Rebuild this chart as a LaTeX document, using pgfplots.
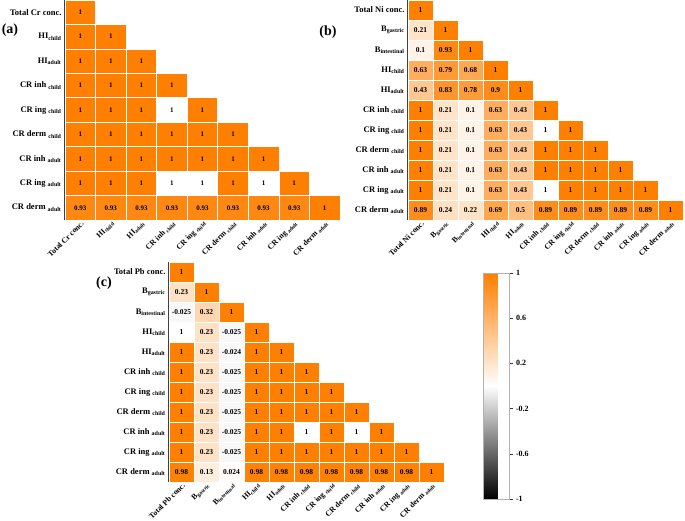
\documentclass[border=0pt]{standalone}
\usepackage{fontspec}
\setmainfont{Liberation Serif}
\usepackage{pgfplots}
\usepackage{pgfplotstable}
\pgfplotsset{compat=1.18}

% black - white - orange, as in the colour key
\pgfplotsset{colormap={corr}{rgb255=(0,0,0) rgb255=(255,255,255) rgb255=(255,127,0)}}

% one cell of each grid, in pt (axis is 275pt x 220pt)
\pgfdeclareplotmark{cellA}{\pgfpathrectangle{\pgfpoint{-15.278pt}{-12.222pt}}{\pgfpoint{30.556pt}{24.444pt}}\pgfusepathqfillstroke}
\pgfdeclareplotmark{cellB}{\pgfpathrectangle{\pgfpoint{-12.5pt}{-10pt}}{\pgfpoint{25pt}{20pt}}\pgfusepathqfillstroke}

\newcommand{\tl}{\fontsize{8.5}{9}\selectfont\bfseries}
\newcommand{\sub}[1]{\textsubscript{#1}}

\pgfplotsset{
  heat/.style={
    anchor=south west, scale only axis, width=275pt, height=220pt,
    axis x line*=bottom, axis y line*=left, axis on top,
    axis line style={line width=1.2pt, black!75},
    major tick length=0pt,
    tick label style={font=\tl},
    xticklabel style={font=\fontsize{7.8}{9}\selectfont\bfseries,
      xshift=3pt, yshift=-1.5pt, rotate=45, anchor=east, inner sep=1pt},
    colormap name=corr, point meta min=-1, point meta max=1,
  },
  hmcell/.style={scatter, only marks, mark=#1, point meta=explicit,
    scatter/use mapped color={draw=white, fill=mapped color},
    mark options={line width=0.6pt}},
  hmwhite/.style={only marks, mark=#1, point meta=none, draw=white, fill=white,
    mark options={draw=white, fill=white, line width=0.6pt}},
  hmnum/.style={only marks, mark=none, nodes near coords, point meta=explicit symbolic,
    every node near coord/.append style={anchor=center, font=#1, text=black}},
}

% Cr
\pgfplotstableread[row sep=\\]{
x y v\\
0 8 1\\
0 7 1\\ 1 7 1\\
0 6 1\\ 1 6 1\\ 2 6 1\\
0 5 1\\ 1 5 1\\ 2 5 1\\ 3 5 1\\
0 4 1\\ 1 4 1\\ 2 4 1\\ 3 4 1\\ 4 4 1\\
0 3 1\\ 1 3 1\\ 2 3 1\\ 3 3 1\\ 4 3 1\\ 5 3 1\\
0 2 1\\ 1 2 1\\ 2 2 1\\ 3 2 1\\ 4 2 1\\ 5 2 1\\ 6 2 1\\
0 1 1\\ 1 1 1\\ 2 1 1\\ 3 1 1\\ 4 1 1\\ 5 1 1\\ 6 1 1\\ 7 1 1\\
0 0 0.93\\ 1 0 0.93\\ 2 0 0.93\\ 3 0 0.93\\ 4 0 0.93\\ 5 0 0.93\\ 6 0 0.93\\ 7 0 0.93\\ 8 0 1\\
}\tabCr

% Ni
\pgfplotstableread[row sep=\\]{
x y v\\
0 10 1\\
0 9 0.21\\ 1 9 1\\
0 8 0.1\\ 1 8 0.93\\ 2 8 1\\
0 7 0.63\\ 1 7 0.79\\ 2 7 0.68\\ 3 7 1\\
0 6 0.43\\ 1 6 0.83\\ 2 6 0.78\\ 3 6 0.9\\ 4 6 1\\
0 5 1\\ 1 5 0.21\\ 2 5 0.1\\ 3 5 0.63\\ 4 5 0.43\\ 5 5 1\\
0 4 1\\ 1 4 0.21\\ 2 4 0.1\\ 3 4 0.63\\ 4 4 0.43\\ 5 4 1\\ 6 4 1\\
0 3 1\\ 1 3 0.21\\ 2 3 0.1\\ 3 3 0.63\\ 4 3 0.43\\ 5 3 1\\ 6 3 1\\ 7 3 1\\
0 2 1\\ 1 2 0.21\\ 2 2 0.1\\ 3 2 0.63\\ 4 2 0.43\\ 5 2 1\\ 6 2 1\\ 7 2 1\\ 8 2 1\\
0 1 1\\ 1 1 0.21\\ 2 1 0.1\\ 3 1 0.63\\ 4 1 0.43\\ 5 1 1\\ 6 1 1\\ 7 1 1\\ 8 1 1\\ 9 1 1\\
0 0 0.89\\ 1 0 0.24\\ 2 0 0.22\\ 3 0 0.69\\ 4 0 0.5\\ 5 0 0.89\\ 6 0 0.89\\ 7 0 0.89\\ 8 0 0.89\\ 9 0 0.89\\ 10 0 1\\
}\tabNi

% Pb
\pgfplotstableread[row sep=\\]{
x y v\\
0 10 1\\
0 9 0.23\\ 1 9 1\\
0 8 -0.025\\ 1 8 0.32\\ 2 8 1\\
0 7 1\\ 1 7 0.23\\ 2 7 -0.025\\ 3 7 1\\
0 6 1\\ 1 6 0.23\\ 2 6 -0.024\\ 3 6 1\\ 4 6 1\\
0 5 1\\ 1 5 0.23\\ 2 5 -0.025\\ 3 5 1\\ 4 5 1\\ 5 5 1\\
0 4 1\\ 1 4 0.23\\ 2 4 -0.025\\ 3 4 1\\ 4 4 1\\ 5 4 1\\ 6 4 1\\
0 3 1\\ 1 3 0.23\\ 2 3 -0.025\\ 3 3 1\\ 4 3 1\\ 5 3 1\\ 6 3 1\\ 7 3 1\\
0 2 1\\ 1 2 0.23\\ 2 2 -0.025\\ 3 2 1\\ 4 2 1\\ 5 2 1\\ 6 2 1\\ 7 2 1\\ 8 2 1\\
0 1 1\\ 1 1 0.23\\ 2 1 -0.025\\ 3 1 1\\ 4 1 1\\ 5 1 1\\ 6 1 1\\ 7 1 1\\ 8 1 1\\ 9 1 1\\
0 0 0.98\\ 1 0 0.13\\ 2 0 0.024\\ 3 0 0.98\\ 4 0 0.98\\ 5 0 0.98\\ 6 0 0.98\\ 7 0 0.98\\ 8 0 0.98\\ 9 0 0.98\\ 10 0 1\\
}\tabPb

\begin{document}
\begin{tikzpicture}
\useasboundingbox (0,0) rectangle (685pt,521pt);

% (a) Cr
\begin{axis}[heat, at={(65pt,301pt)},
  xmin=-0.5, xmax=8.5, ymin=-0.5, ymax=8.5,
  xtick={0,...,8}, ytick={0,...,8},
  xticklabels={Total Cr conc., HI\sub{child}, HI\sub{adult}, CR inh \sub{child}, CR ing \sub{child}, CR derm \sub{child}, CR inh \sub{adult}, CR ing \sub{adult}, CR derm \sub{adult}},
  yticklabels={CR derm \sub{adult}, CR ing \sub{adult}, CR inh \sub{adult}, CR derm \sub{child}, CR ing \sub{child}, CR inh \sub{child}, HI\sub{adult}, HI\sub{child}, Total Cr conc.}]
\addplot[hmcell=cellA] table[meta=v] {\tabCr};
\addplot[hmwhite=cellA] coordinates {(3,4) (3,1) (4,1) (6,1)};
\addplot[hmnum={\fontsize{7}{8}\selectfont\bfseries}] table[meta=v] {\tabCr};
\end{axis}

% (b) Ni
\begin{axis}[heat, at={(408pt,301pt)},
  xmin=-0.5, xmax=10.5, ymin=-0.5, ymax=10.5,
  xtick={0,...,10}, ytick={0,...,10},
  xticklabels={Total Ni conc., B\sub{gastric}, B\sub{intestinal}, HI\sub{child}, HI\sub{adult}, CR inh \sub{child}, CR ing \sub{child}, CR derm \sub{child}, CR inh \sub{adult}, CR ing \sub{adult}, CR derm \sub{adult}},
  yticklabels={CR derm \sub{adult}, CR ing \sub{adult}, CR inh \sub{adult}, CR derm \sub{child}, CR ing \sub{child}, CR inh \sub{child}, HI\sub{adult}, HI\sub{child}, B\sub{intestinal}, B\sub{gastric}, Total Ni conc.}]
\addplot[hmcell=cellB] table[meta=v] {\tabNi};
\addplot[hmwhite=cellB] coordinates {(5,4) (5,1)};
\addplot[hmnum={\fontsize{7.5}{8}\selectfont\bfseries}] table[meta=v] {\tabNi};
\end{axis}

% (c) Pb, with the colour key
\begin{axis}[heat, at={(169pt,39pt)},
  xmin=-0.5, xmax=10.5, ymin=-0.5, ymax=10.5,
  xtick={0,...,10}, ytick={0,...,10},
  xticklabels={Total Pb conc., B\sub{gastric}, B\sub{intestinal}, HI\sub{child}, HI\sub{adult}, CR inh \sub{child}, CR ing \sub{child}, CR derm \sub{child}, CR inh \sub{adult}, CR ing \sub{adult}, CR derm \sub{adult}},
  yticklabels={CR derm \sub{adult}, CR ing \sub{adult}, CR inh \sub{adult}, CR derm \sub{child}, CR ing \sub{child}, CR inh \sub{child}, HI\sub{adult}, HI\sub{child}, B\sub{intestinal}, B\sub{gastric}, Total Pb conc.},
  colorbar,
  colorbar style={at={(parent axis.south east)}, anchor=south west,
    xshift=31pt, yshift=-17pt,
    scale only axis, width=26pt, height=226pt,
    axis lines=box, axis line style={gray!60, line width=0.8pt},
    ytick={-1,-0.6,-0.2,0.2,0.6,1},
    yticklabels={-1,-0.6,-0.2,0.2,0.6,1},
    yticklabel style={font=\fontsize{8}{9}\selectfont\bfseries, rotate=0, anchor=west},
    ytick pos=right, yticklabel pos=right,
    major tick length=3pt, tick align=outside,
    ytick style={black!80, line width=0.5pt}}]
\addplot[hmcell=cellB] table[meta=v] {\tabPb};
\addplot[hmwhite=cellB] coordinates {(0,7) (5,2) (7,2)};
\addplot[hmnum={\fontsize{7.5}{8}\selectfont\bfseries}] table[meta=v] {\tabPb};
\end{axis}

\node[font=\fontsize{14}{16}\selectfont\bfseries] at (10pt,491pt) {(a)};
\node[font=\fontsize{14}{16}\selectfont\bfseries] at (328pt,489pt) {(b)};
\node[font=\fontsize{14}{16}\selectfont\bfseries] at (104pt,238pt) {(c)};
\end{tikzpicture}
\end{document}
